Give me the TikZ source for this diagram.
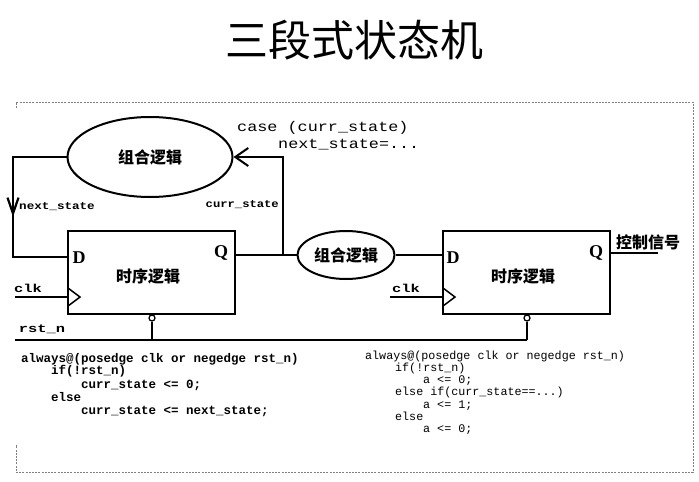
\documentclass[tikz,border=0pt]{standalone}
\usepackage{fontspec}
\newfontfamily\cjk{Noto Sans CJK SC}
\newfontfamily\mono{Liberation Mono}
\newfontfamily\rom{Liberation Serif}
\usetikzlibrary{arrows.meta,shapes.geometric}
\begin{document}
\begin{tikzpicture}[x=1pt,y=-1pt,
  wire/.style={line width=2pt},
  ell/.style={ellipse,draw,line width=2pt,inner sep=0pt,font=\cjk\bfseries\fontsize{16}{16}\selectfont},
  ffbox/.style={draw,line width=2pt,minimum width=167pt,minimum height=83pt,inner sep=0pt},
  pinlbl/.style={font=\rom\bfseries\fontsize{18}{18}\selectfont,inner sep=0pt},
  cn/.style={font=\cjk\bfseries\fontsize{16}{16}\selectfont,inner sep=0pt},
  sig/.style={font=\mono\bfseries\fontsize{10.5}{10.5}\selectfont,inner sep=0pt},
  sigb/.style={font=\mono\bfseries\fontsize{11.5}{11.5}\selectfont,inner sep=0pt},
  casetxt/.style={font=\mono\fontsize{14}{14}\selectfont,inner sep=0pt,anchor=west},
  codeL/.style={font=\mono\bfseries\fontsize{12.5}{12.5}\selectfont,inner sep=0pt,anchor=base west},
  codeR/.style={font=\mono\fontsize{11.7}{11.7}\selectfont,inner sep=0pt,anchor=base west},
  frame/.style={draw=gray,line width=0.7pt,dash pattern=on 2pt off 1.2pt},
  bubble/.style={circle,draw,line width=1.3pt,inner sep=0pt,minimum size=6pt,fill=white}
]
\useasboundingbox (0,0) rectangle (699,482);

% title
\node[font=\cjk\fontsize{43}{43}\selectfont,inner sep=0pt] (title) at (354,40) {三段式状态机};

% dashed frame
\draw[frame] (16,108) -- (16,102) -- (693,102) -- (693,472) -- (16,472) -- (16,445);

% shapes
\node[ell,minimum width=165pt,minimum height=80pt] (e1) at (150,157) {组合逻辑};
\node[ell,minimum width=97pt,minimum height=48pt] (e2) at (346,255) {组合逻辑};
\node[ffbox] (b1) at (151.5,272.5) {};
\node[ffbox] (b2) at (526.5,272.5) {};
\node[cn] (t1) at (148,276) {时序逻辑};
\node[cn] (t2) at (523,276) {时序逻辑};
\node[pinlbl] (d1) at (79,258) {D};
\node[pinlbl] (q1) at (221,253) {Q};
\node[pinlbl] (d2) at (453,258) {D};
\node[pinlbl] (q2) at (596,253) {Q};

% clock triangles
\draw[line width=1.5pt] (68,288) -- (80,297) -- (68,306);
\draw[line width=1.5pt] (443,288) -- (455,297) -- (443,306);

% pin coordinates
\coordinate (b1D) at (68,257);
\coordinate (b1Q) at (235,255);
\coordinate (b2D) at (443,255);
\coordinate (b2Q) at (610,253);
\coordinate (out) at (658,253);
\coordinate (fbl) at (13,157);
\coordinate (fbb) at (13,257);
\coordinate (j) at (283,255);
\coordinate (clk1) at (15,297);
\coordinate (b1C) at (68,297);
\coordinate (clk2) at (390,297);
\coordinate (b2C) at (443,297);
\coordinate (rs) at (15,340);
\coordinate (re) at (527,340);

% feedback next_state
\draw[wire] (e1.west) -- (fbl) -- (fbb) -- (b1D);
\coordinate (arA) at (13,190);
\coordinate (arB) at (13,217);
\draw[line width=2.2pt,-{Straight Barb[length=16pt,width=11pt]}] (arA) -- (arB);

% Q -> comb logic, curr_state feedback
\draw[wire] (b1Q) -- (e2.west);
\draw[wire,-{Straight Barb[length=13pt,width=18pt]}] (j) |- (e1.east);
\draw[wire] (e2.east) -- (b2D);
\draw[wire] (b2Q) -- (out);

% clocks
\draw[wire] (clk1) -- (b1C);
\draw[wire] (clk2) -- (b2C);

% reset
\node[bubble] (r1) at (152,318) {};
\node[bubble] (r2) at (527,318) {};
\draw[wire] (rs) -- (re);
\draw[wire] (r1) -- (r1 |- rs);
\draw[wire] (r2) -- (re);

% labels
\node[sig,anchor=west] (lns) at (19,207) {\scalebox{1.2}[1]{next\_state}};
\node[sig,anchor=east] (lcs) at (279,205) {\scalebox{1.16}[1]{curr\_state}};
\node[casetxt] (case1) at (237,128) {\scalebox{1.2}[1]{case (curr\_state)}};
\node[casetxt] (case2) at (278,145) {\scalebox{1.2}[1]{next\_state=...}};
\node[sigb] (lclk1) at (28,288) {\scalebox{1.34}[1]{clk}};
\node[sigb] (lclk2) at (406,288) {\scalebox{1.34}[1]{clk}};
\node[sigb] (lrst) at (42,329) {\scalebox{1.34}[1]{rst\_n}};
\node[cn] (ctl) at (648,242) {控制信号};

% left code
\node[codeL] (cl1) at (21,362) {always@(posedge clk or negedge rst\_n)};
\node[codeL] (cl2) at (51,374) {if(!rst\_n)};
\node[codeL] (cl3) at (81,388) {curr\_state <= 0;};
\node[codeL] (cl4) at (51,401) {else};
\node[codeL] (cl5) at (81,414) {curr\_state <= next\_state;};

% right code
\node[codeR] (cr1) at (365,359) {always@(posedge clk or negedge rst\_n)};
\node[codeR] (cr2) at (395,371.3) {if(!rst\_n)};
\node[codeR] (cr3) at (423,383.6) {a <= 0;};
\node[codeR] (cr4) at (395,395.9) {else if(curr\_state==...)};
\node[codeR] (cr5) at (423,408.2) {a <= 1;};
\node[codeR] (cr6) at (395,420.5) {else};
\node[codeR] (cr7) at (423,432.8) {a <= 0;};
\end{tikzpicture}
\end{document}
